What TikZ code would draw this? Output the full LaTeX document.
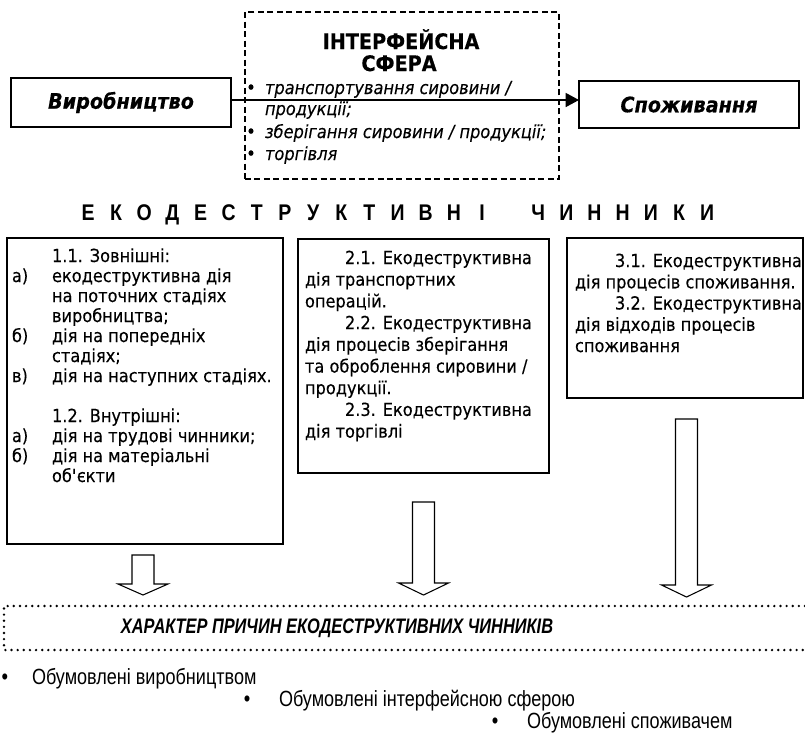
\documentclass[tikz,border=0pt]{standalone}
\usepackage{fontspec}
\setmainfont{DejaVu Sans}[FakeStretch=0.9, FakeBold=0.25]
\newfontfamily\narrowfont{Liberation Sans}[FakeStretch=0.82]
\newfontfamily\causefont{Liberation Sans}[FakeStretch=0.78]
\newfontfamily\headfont{Liberation Sans}[FakeStretch=0.86]
\usetikzlibrary{arrows.meta}

\tikzset{
  every node/.style={inner sep=0pt, outer sep=0pt},
  mainbox/.style={draw, line width=1.7pt, anchor=north west,
    font=\fontsize{16}{18}\selectfont\bfseries\itshape},
  ifcbox/.style={draw, line width=1pt, dash pattern=on 4.5pt off 2.6pt, anchor=north west},
  ifctitle/.style={anchor=base, font=\fontsize{16}{18}\selectfont\bfseries},
  ifcitem/.style={anchor=base west, font=\fontsize{13.5}{15}\selectfont\itshape},
  ifcdot/.style={anchor=base, font=\fontsize{14}{16}\selectfont},
  flow/.style={line width=1.1pt, -{Triangle[length=10pt, width=10.5pt]}},
  headletter/.style={anchor=base, font=\headfont\fontsize{17}{19}\selectfont\bfseries},
  factorbox/.style={draw, line width=1.1pt, anchor=north west},
  bodytext/.style={anchor=base west, font=\fontsize{13.5}{15}\selectfont},
  blockarrow/.style={draw, line width=0.8pt, line join=miter, fill=white},
  dotframe/.style={line width=2pt, line cap=round, dash pattern=on 0pt off 4.6pt},
  causetext/.style={font=\causefont\fontsize{15.75}{18}\selectfont\bfseries\itshape},
  causeitem/.style={anchor=base west, font=\narrowfont\fontsize{16.5}{18}\selectfont},
  causedot/.style={anchor=base, font=\narrowfont\fontsize{17}{18}\selectfont},
}

% hollow arrow pointing down: x of axis, top of shaft, start of head, tip
\newcommand\downblock[4]{%
  \draw[blockarrow] (#1-11,#2) -- (#1+11,#2) -- (#1+11,#3) -- (#1+25,#3)
    -- (#1,#4) -- (#1-25,#3) -- (#1-11,#3) -- cycle;}

\begin{document}
\begin{tikzpicture}[x=0.75pt, y=-0.75pt]
\useasboundingbox (0,0) rectangle (805,733);

% ---------- production, interface sphere, consumption ----------
\node[mainbox, minimum width=165pt, minimum height=36.75pt] (prod) at (11,78) {Виробництво};
\node[mainbox, minimum width=165pt, minimum height=35.25pt] (cons) at (579,81) {Споживання};
\node[ifcbox, minimum width=235.5pt, minimum height=125.25pt] (ifc) at (245,12) {};

\node[ifctitle] (ifct1) at (401,49) {ІНТЕРФЕЙСНА};
\node[ifctitle] (ifct2) at (399,71) {СФЕРА};

\node[ifcdot]  (d1) at (251,94) {•};
\node[ifcitem] (i1) at (265,94) {транспортування сировини /};
\node[ifcitem] (i1b) at (265,115) {продукції;};
\node[ifcdot]  (d2) at (251,138) {•};
\node[ifcitem] (i2) at (265,138) {зберігання сировини / продукції;};
\node[ifcdot]  (d3) at (251,160) {•};
\node[ifcitem] (i3) at (265,160) {торгівля};

\coordinate (lvl) at (0,100);
\draw[flow] (prod.east |- lvl) -- (cons.west |- lvl);

% ---------- heading ----------
\foreach \ch [count=\k from 0] in {Е,К,О,Д,Е,С,Т,Р,У,К,Т,И,В,Н,І}
  \node[headletter] (ha\k) at (88+28.14*\k,220) {\ch};
\foreach \ch [count=\k from 16] in {Ч,И,Н,Н,И,К,И}
  \node[headletter] (hb\k) at (88+28.14*\k,220) {\ch};

% ---------- factor boxes ----------
\node[factorbox, minimum width=207pt, minimum height=229.5pt] (f1) at (7,238) {};
\node[factorbox, minimum width=188.25pt, minimum height=175.5pt] (f2) at (298,239) {};
\node[factorbox, minimum width=177pt, minimum height=120pt] (f3) at (567,238) {};

% box 1
\node[bodytext] (f1l0)  at (52,262) {1.1. Зовнішні:};
\node[bodytext] (f1m1)  at (12,282) {а)};
\node[bodytext] (f1l1)  at (52,282) {екодеструктивна дія};
\node[bodytext] (f1l2)  at (52,302) {на поточних стадіях};
\node[bodytext] (f1l3)  at (52,322) {виробництва;};
\node[bodytext] (f1m4)  at (12,342) {б)};
\node[bodytext] (f1l4)  at (52,342) {дія на попередніх};
\node[bodytext] (f1l5)  at (52,362) {стадіях;};
\node[bodytext] (f1m6)  at (12,382) {в)};
\node[bodytext] (f1l6)  at (52,382) {дія на наступних стадіях.};
\node[bodytext] (f1l8)  at (52,422) {1.2. Внутрішні:};
\node[bodytext] (f1m9)  at (12,442) {а)};
\node[bodytext] (f1l9)  at (52,442) {дія на трудові чинники;};
\node[bodytext] (f1m10) at (12,462) {б)};
\node[bodytext] (f1l10) at (52,462) {дія на матеріальні};
\node[bodytext] (f1l11) at (52,482) {об\textquotesingle єкти};

% box 2
\node[bodytext] (f2l0) at (345,264) {2.1. Екодеструктивна};
\node[bodytext] (f2l1) at (305,285.7) {дія транспортних};
\node[bodytext] (f2l2) at (305,307.4) {операцій.};
\node[bodytext] (f2l3) at (345,329.1) {2.2. Екодеструктивна};
\node[bodytext] (f2l4) at (305,350.8) {дія процесів зберігання};
\node[bodytext] (f2l5) at (305,372.5) {та оброблення сировини /};
\node[bodytext] (f2l6) at (305,394.2) {продукції.};
\node[bodytext] (f2l7) at (345,415.9) {2.3. Екодеструктивна};
\node[bodytext] (f2l8) at (305,437.6) {дія торгівлі};

% box 3
\node[bodytext] (f3l0) at (615,267) {3.1. Екодеструктивна};
\node[bodytext] (f3l1) at (575,288.25) {дія процесів споживання.};
\node[bodytext] (f3l2) at (615,309.5) {3.2. Екодеструктивна};
\node[bodytext] (f3l3) at (575,330.75) {дія відходів процесів};
\node[bodytext] (f3l4) at (575,352) {споживання};

% ---------- hollow arrows ----------
\downblock{143}{555}{584}{595}
\downblock{423.5}{502}{583}{595}
\downblock{686.5}{419}{585}{597}

% ---------- character of causes ----------
\draw[dotframe] (805,606) -- (4,606) -- (4,650) -- (805,650);
\node[causetext] (cause) at (337,628) {ХАРАКТЕР ПРИЧИН ЕКОДЕСТРУКТИВНИХ ЧИННИКІВ};

\node[causedot]  (c1d) at (5,684) {•};
\node[causeitem] (c1)  at (32,684) {Обумовлені виробництвом};
\node[causedot]  (c2d) at (247,706) {•};
\node[causeitem] (c2)  at (279,706) {Обумовлені інтерфейсною сферою};
\node[causedot]  (c3d) at (495,728) {•};
\node[causeitem] (c3)  at (527,728) {Обумовлені споживачем};
\end{tikzpicture}
\end{document}
